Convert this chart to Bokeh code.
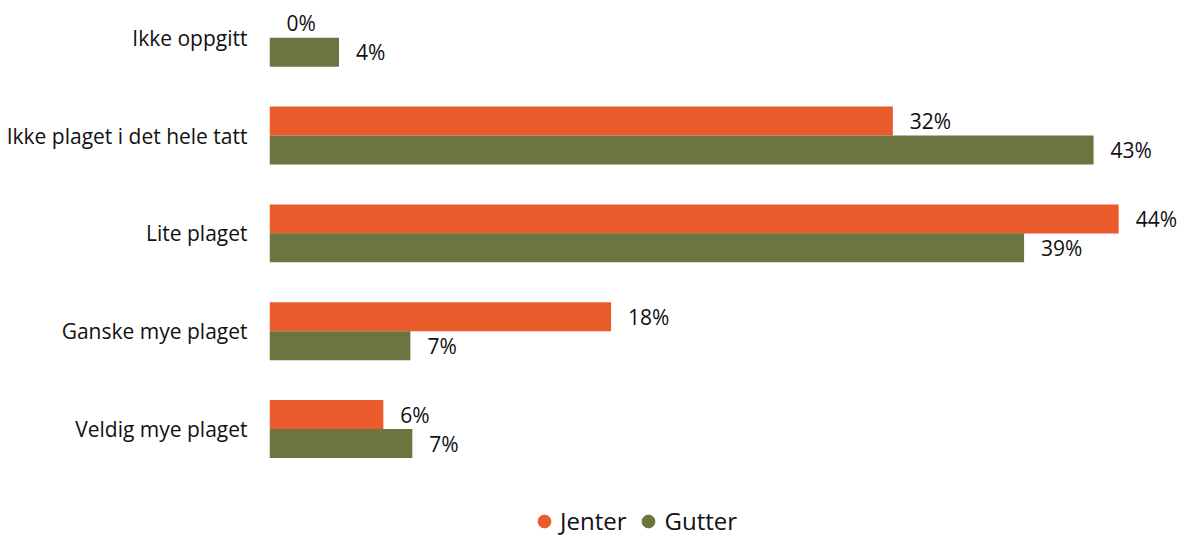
from bokeh.plotting import figure
from bokeh.models import Range1d, ColumnDataSource, Legend, LegendItem, FixedTicker
from bokeh.core.properties import value
from bokeh.embed import file_html
from bokeh.resources import INLINE

categories = ["Ikke oppgitt", "Ikke plaget i det hele tatt", "Lite plaget",
              "Ganske mye plaget", "Veldig mye plaget"]
jenter = [0.0, 32.3, 44.0, 17.7, 5.9]
gutter = [3.6, 42.7, 39.1, 7.3, 7.4]
jenter_labels = ["0%", "32%", "44%", "18%", "6%"]
gutter_labels = ["4%", "43%", "39%", "7%", "7%"]
series_names = ["Jenter", "Gutter"]
colors = ["#EB5B2C", "#6C743F"]

FONT = "Open Sans"
n = len(categories)
pos = [n - 1 - i for i in range(n)]
off = 0.148
bh = 0.2965

src_j = ColumnDataSource(dict(y=[p_ + off for p_ in pos], v=jenter, lab=jenter_labels))
src_g = ColumnDataSource(dict(y=[p_ - off for p_ in pos], v=gutter, lab=gutter_labels))

p = figure(width=1183, height=537, output_backend="svg", toolbar_location=None,
           x_range=Range1d(0, 47.36), y_range=Range1d(-1.109, 4.381),
           min_border_left=269, min_border_right=0, min_border_top=0, min_border_bottom=0)
p.xaxis.visible = False
p.xgrid.visible = False
p.ygrid.visible = False
p.outline_line_color = None

ax = p.yaxis[0]
ax.ticker = FixedTicker(ticks=pos)
ax.major_label_overrides = {p_: c for p_, c in zip(pos, categories)}
ax.axis_line_color = None
ax.major_tick_line_color = None
ax.minor_tick_line_color = None
ax.major_tick_out = 0
ax.major_tick_in = 0
ax.major_label_standoff = 22
ax.major_label_text_font = FONT
ax.major_label_text_font_size = "21px"
ax.major_label_text_color = "#111111"

rj = p.hbar(y="y", left=0, right="v", height=bh, source=src_j,
            fill_color=colors[0], line_color=None)
rg = p.hbar(y="y", left=0, right="v", height=bh, source=src_g,
            fill_color=colors[1], line_color=None)

for s in (src_j, src_g):
    p.text(x="v", y="y", text="lab", source=s, x_offset=17, text_baseline="middle",
           text_align="left", text_font=value(FONT), text_font_size="21px", text_color="#111111")

# legend proxies (NaN data, never drawn in the plot)
nan = float("nan")
lj = p.scatter(x=[nan], y=[nan], marker="circle", color=colors[0])
lg = p.scatter(x=[nan], y=[nan], marker="circle", color=colors[1])
legend = Legend(items=[LegendItem(label=series_names[0], renderers=[lj]),
                       LegendItem(label=series_names[1], renderers=[lg])],
                orientation="horizontal", location=(259, 0),
                glyph_width=32, glyph_height=32, label_standoff=0, spacing=6,
                padding=0, margin=0, border_line_color=None, background_fill_alpha=0,
                label_text_font=FONT, label_text_font_size="24px", label_text_color="#111111")
p.add_layout(legend, "center")

open("out.html", "w").write(file_html(p, INLINE))
